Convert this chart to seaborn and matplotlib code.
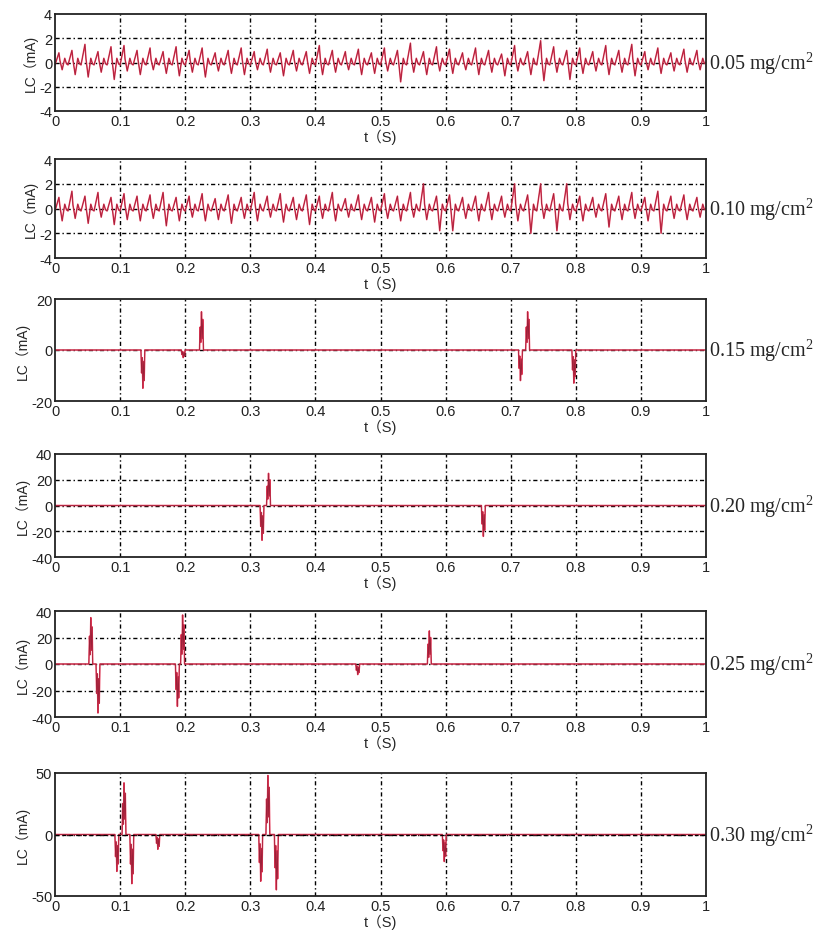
import numpy as np
import pandas as pd
import matplotlib
matplotlib.use("Agg")
import matplotlib.pyplot as plt
import seaborn as sns

# concentration labels, one per panel
doses = ['0.05', '0.10', '0.15', '0.20', '0.25', '0.30']

t_ticks = [0, 0.1, 0.2, 0.3, 0.4, 0.5, 0.6, 0.7, 0.8, 0.9, 1]
t_labels = ['0', '0.1', '0.2', '0.3', '0.4', '0.5', '0.6', '0.7', '0.8', '0.9', '1']

# y ranges / ticks per panel
y_ticks = [[-4, -2, 0, 2, 4], [-4, -2, 0, 2, 4], [-20, 0, 20],
           [-40, -20, 0, 20, 40], [-40, -20, 0, 20, 40], [-50, 0, 50]]

# ripple panels: one peak / trough per 50 Hz cycle
peaks_005 = [0.8, 1.0, 1.5, 0.9, 1.3, 1.4, 1.0, 1.2, 0.9, 1.3,
             1.0, 1.2, 0.8, 1.0, 1.2, 0.9, 1.1, 0.8, 1.0, 0.9,
             1.4, 1.0, 0.9, 1.1, 0.8, 1.2, 1.0, 1.6, 0.9, 1.3,
             1.1, 0.8, 1.2, 1.0, 0.7, 1.4, 0.9, 1.8, 1.3, 1.0,
             1.2, 0.9, 1.4, 1.0, 1.5, 0.9, 1.2, 0.8, 1.1, 1.0]
troughs_005 = [-0.6, -1.0, -1.2, -0.8, -1.4, -0.7, -1.0, -0.6, -0.9, -1.1,
               -0.8, -1.2, -0.7, -0.9, -1.0, -0.6, -0.8, -1.1, -0.7, -0.9,
               -1.0, -0.8, -0.6, -1.0, -0.9, -0.7, -1.6, -0.8, -1.0, -0.7,
               -0.9, -0.6, -1.0, -0.8, -1.1, -0.7, -1.0, -1.5, -0.8, -1.4,
               -0.9, -0.7, -1.0, -0.8, -1.1, -0.6, -0.9, -0.7, -0.8, -0.6]
peaks_010 = [0.9, 1.4, 1.0, 1.3, 0.9, 1.2, 1.0, 1.1, 1.3, 0.9,
             1.0, 1.2, 0.8, 1.1, 0.9, 1.3, 1.0, 1.2, 0.9, 1.1,
             1.0, 1.3, 0.8, 1.1, 0.9, 1.2, 1.0, 1.3, 2.0, 1.0,
             1.1, 0.9, 1.0, 1.3, 1.0, 2.0, 1.1, 2.0, 1.2, 2.0,
             1.0, 0.9, 1.2, 1.0, 1.3, 0.9, 1.4, 1.0, 1.1, 0.9]
troughs_010 = [-1.0, -0.8, -1.2, -0.7, -1.3, -0.9, -1.0, -0.8, -1.4, -1.0,
               -0.7, -1.0, -0.9, -1.2, -0.8, -1.0, -0.7, -1.1, -0.9, -1.3,
               -0.8, -1.0, -0.7, -0.9, -1.1, -0.8, -1.0, -0.7, -0.9, -1.8,
               -1.8, -0.8, -1.0, -0.9, -0.7, -1.0, -2.0, -0.8, -1.8, -0.9,
               -1.0, -0.7, -1.5, -0.9, -0.8, -1.0, -2.0, -0.8, -0.9, -0.7]

# spike panels: spike times (s) and amplitudes (mA)
spikes_015_t = [0.135, 0.197, 0.225, 0.715, 0.726, 0.797]
spikes_015_v = [-15, -3, 15, -12, 15, -13]
spikes_020_t = [0.318, 0.328, 0.658]
spikes_020_v = [-27, 25, -24]
spikes_025_t = [0.055, 0.066, 0.188, 0.196, 0.465, 0.575]
spikes_025_v = [35, -37, -32, 37, -8, 25]
spikes_030_t = [0.095, 0.106, 0.118, 0.158, 0.316, 0.327, 0.340, 0.598]
spikes_030_v = [-30, 42, -40, -12, -38, 48, -45, -22]


def ripple_frame(peaks, troughs):
    period = 1.0 / len(peaks)
    t, y = [], []
    for i, (p, q) in enumerate(zip(peaks, troughs)):
        t0 = i * period
        t += [t0, t0 + 0.3 * period, t0 + 0.38 * period, t0 + 0.55 * period,
              t0 + 0.75 * period, t0 + 0.88 * period]
        y += [-0.2, p, 0.2 * p, q, 0.35, -0.1]
    t.append(1.0)
    y.append(0.0)
    return pd.DataFrame({'t': t, 'lc': y})


def spike_frame(times, amps):
    t, y = [0.0], [0.0]
    for ti, a in zip(times, amps):
        t += [ti - 0.003, ti - 0.002, ti - 0.001, ti, ti + 0.001, ti + 0.002, ti + 0.003]
        y += [0, a * 0.6, a * 0.2, a, a * 0.3, a * 0.8, 0]
    t.append(1.0)
    y.append(0.0)
    return pd.DataFrame({'t': t, 'lc': y})


frames = [ripple_frame(peaks_005, troughs_005),
          ripple_frame(peaks_010, troughs_010),
          spike_frame(spikes_015_t, spikes_015_v),
          spike_frame(spikes_020_t, spikes_020_v),
          spike_frame(spikes_025_t, spikes_025_v),
          spike_frame(spikes_030_t, spikes_030_v)]

sns.set_style("white")
plt.rcParams['font.family'] = ['Liberation Sans', 'Noto Sans CJK SC', 'DejaVu Sans']
plt.rcParams['mathtext.default'] = 'regular'

fig = plt.figure(figsize=(8.38, 9.45), dpi=100)

# axes boxes in figure pixels (top, bottom)
boxes = [(15, 112), (160, 259), (300, 402), (455, 558), (612, 718), (774, 897)]
left, right = 55, 706
W, H = 838.0, 945.0

for k, (df, (top, bot)) in enumerate(zip(frames, boxes)):
    ax = fig.add_axes([left / W, 1 - bot / H, (right - left) / W, (bot - top) / H])
    sns.lineplot(data=df, x='t', y='lc', ax=ax, estimator=None, sort=False,
                 color='#ec3b5a', lw=1.1)
    sns.lineplot(data=df, x='t', y='lc', ax=ax, estimator=None, sort=False,
                 color='#3a0010', lw=0.5, alpha=0.45)
    if k == 5:
        ax.axhline(0, color='k', lw=0.9, ls=(0, (3, 2.5)), zorder=3)
    yt = y_ticks[k]
    ax.set_xlim(0, 1)
    ax.set_ylim(yt[0], yt[-1])
    ax.set_xticks(t_ticks)
    ax.set_xticklabels(t_labels)
    ax.set_yticks(yt)
    ax.set_yticklabels([str(v) for v in yt])
    for v in t_ticks[1:-1]:
        ax.axvline(v, color='k', lw=1.0, ls=(0, (3, 2, 1, 2)), zorder=0)
    for v in yt[1:-1]:
        ax.axhline(v, color='k', lw=1.0, ls=(0, (3, 2, 1, 2)), zorder=0)
    ax.tick_params(direction='in', length=3, width=0.8, labelsize=10.5,
                   colors='#222222', pad=2)
    for s in ax.spines.values():
        s.set_color('#222222')
        s.set_linewidth(1.3)
    ax.set_xlabel('t（S)', fontsize=10.5, labelpad=0.5)
    ax.set_ylabel('LC（mA)', fontsize=10, labelpad=1)
    ax.text(1.004, 0.5, doses[k] + ' mg/cm$^2$', transform=ax.transAxes,
            ha='left', va='center', fontsize=14.5, family='Liberation Serif')

fig.savefig('out.png', dpi=100)
